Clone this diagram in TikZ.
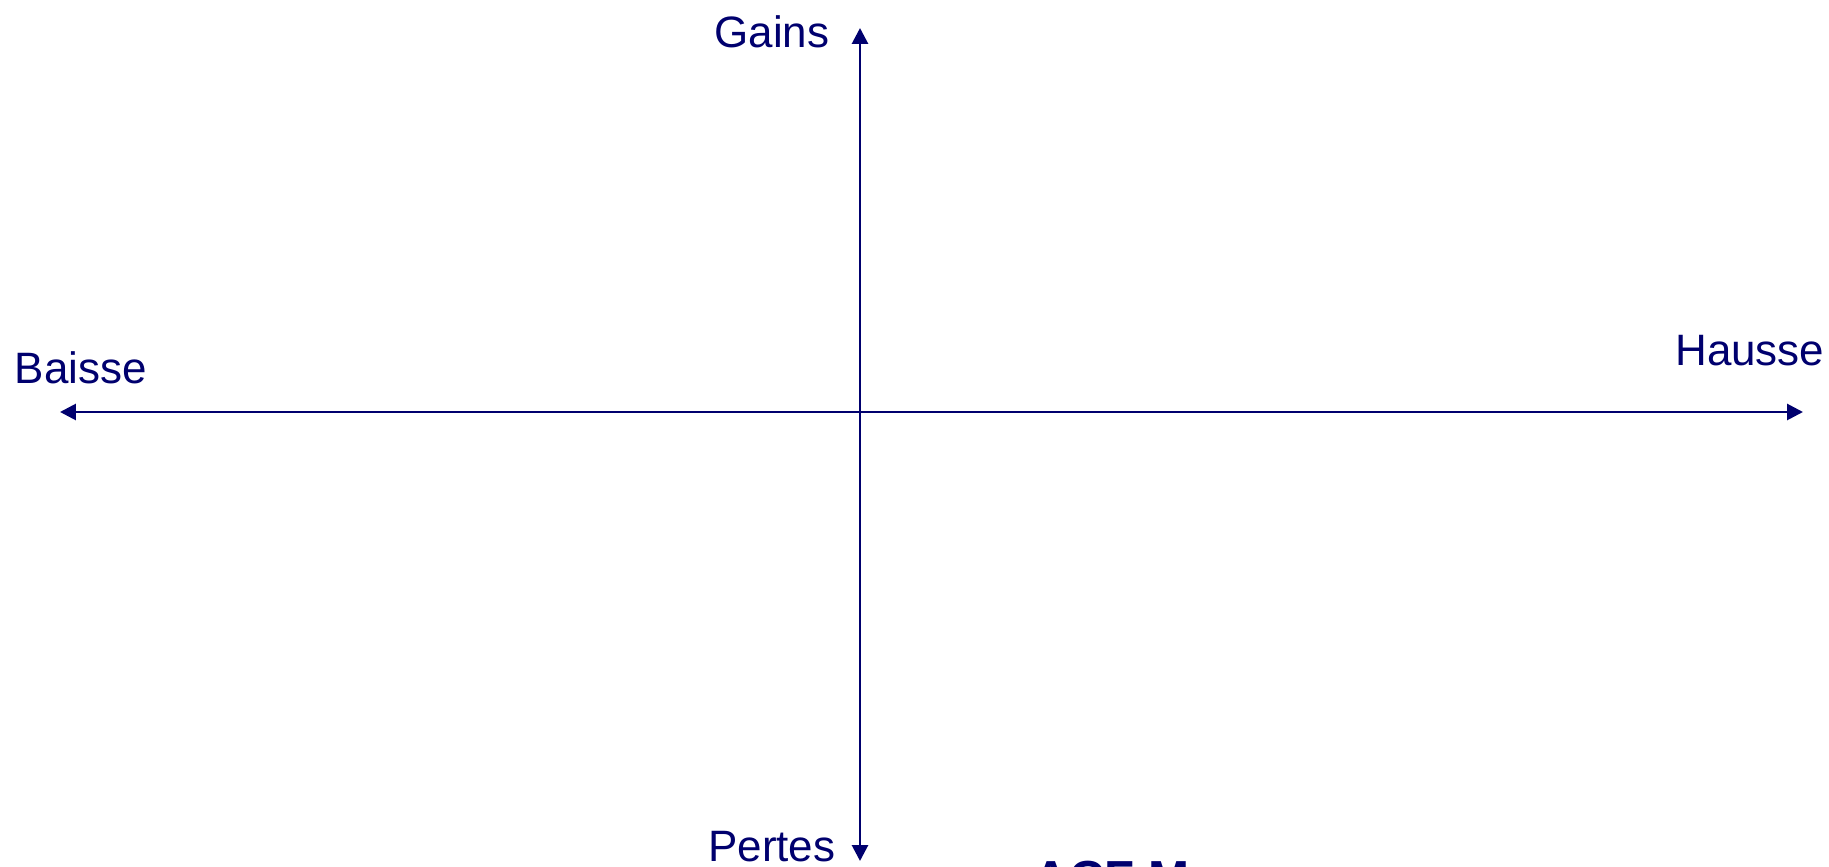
\documentclass[tikz,border=0pt]{standalone}
\usepackage{fontspec}
\setmainfont{Liberation Sans}
\usetikzlibrary{arrows.meta}
\definecolor{axisblue}{RGB}{0,0,110}
\begin{document}
\begin{tikzpicture}[
        x=0.01cm, y=-0.01cm,
        axis/.style={draw=axisblue, line width=0.8pt, {Triangle[length=4.5pt,width=4.5pt]}-{Triangle[length=4.5pt,width=4.5pt]}},
        every node/.style={text=axisblue, font=\fontsize{12.5}{15}\selectfont, inner sep=0pt}
    ]
    \useasboundingbox (0,0) rectangle (1829,867);
    \coordinate (west) at (60,412);
    \coordinate (east) at (1803,412);
    \coordinate (north) at (860,28);
    \coordinate (south) at (860,861);
    \draw[axis] (west) -- (east);
    \draw[axis] (south) -- (north);
    \node[anchor=east] (gains) at (830,32) {Gains};
    \node[anchor=east] (pertes) at (836,847) {Pertes};
    \node[anchor=west] (baisse) at (14,368) {Baisse};
    \node[anchor=east] (hausse) at (1825,351) {Hausse};
    \node[anchor=north west, font=\bfseries\fontsize{14}{16}\selectfont] (footer) at (1033,860) {ACF M};
\end{tikzpicture}
\end{document}
